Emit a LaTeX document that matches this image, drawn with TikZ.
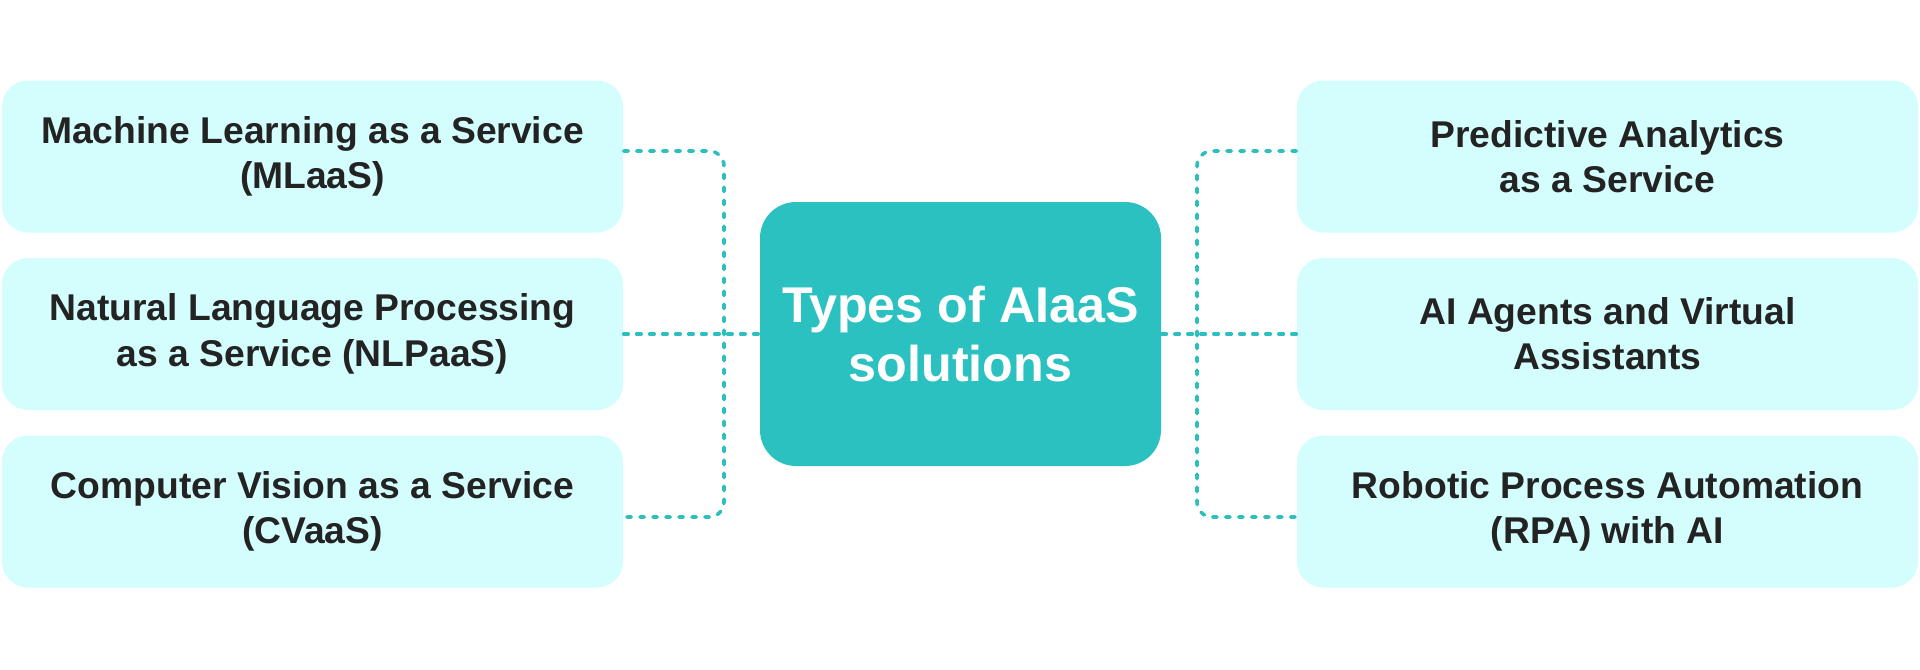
\documentclass[tikz,border=0pt]{standalone}
\usepackage{fontspec}
\setmainfont{Liberation Sans}
\usepackage{xcolor}
\usetikzlibrary{positioning,calc}
\definecolor{boxfill}{HTML}{D4FDFD}
\definecolor{hubfill}{HTML}{2BC1C1}
\definecolor{linkcol}{HTML}{2DBEBE}
\definecolor{txtcol}{HTML}{232323}
\begin{document}
\begin{tikzpicture}[
    typebox/.style={fill=boxfill, rounded corners=0.26cm, minimum width=6.21cm, minimum height=1.52cm,
        inner sep=0pt, align=center, text=txtcol, font=\fontsize{10.6}{12.9}\selectfont\bfseries},
    hubbox/.style={fill=hubfill, rounded corners=0.36cm, minimum width=4.01cm, minimum height=2.64cm,
        inner sep=0pt, align=center, text=white, font=\fontsize{14.3}{17}\selectfont\bfseries},
    link/.style={linkcol, line width=0.036cm, line cap=round, dash pattern=on 0.045cm off 0.085cm}
]
    \useasboundingbox (0,0) rectangle (19.2,6.69);
    % Centre
    \node[hubbox] (hub) at (9.605,3.35) {Types of AIaaS\\solutions};
    % Left column
    \node[typebox] (mlaas) at (3.125,5.125) {Machine Learning as a Service\\(MLaaS)};
    \node[typebox] (nlpaas) at (3.125,3.35) {Natural Language Processing\\as a Service (NLPaaS)};
    \node[typebox] (cvaas) at (3.125,1.575) {Computer Vision as a Service\\(CVaaS)};
    % Right column
    \node[typebox] (paaas) at (16.075,5.125) {Predictive Analytics\\as a Service};
    \node[typebox] (agents) at (16.075,3.35) {AI Agents and Virtual\\Assistants};
    \node[typebox] (rpa) at (16.075,1.575) {Robotic Process Automation\\(RPA) with AI};
    % Bus points
    \coordinate (lbus) at (7.24,3.35);
    \coordinate (rbus) at (11.97,3.35);
    % Left links
    \draw[link, rounded corners=0.15cm] ([yshift=0.055cm]mlaas.east) -| (lbus) |- ([yshift=-0.055cm]cvaas.east);
    \draw[link] (nlpaas.east) -- (hub.west);
    % Right links
    \draw[link, rounded corners=0.15cm] ([yshift=0.055cm]paaas.west) -| (rbus) |- ([yshift=-0.055cm]rpa.west);
    \draw[link] (agents.west) -- (hub.east);
\end{tikzpicture}
\end{document}
